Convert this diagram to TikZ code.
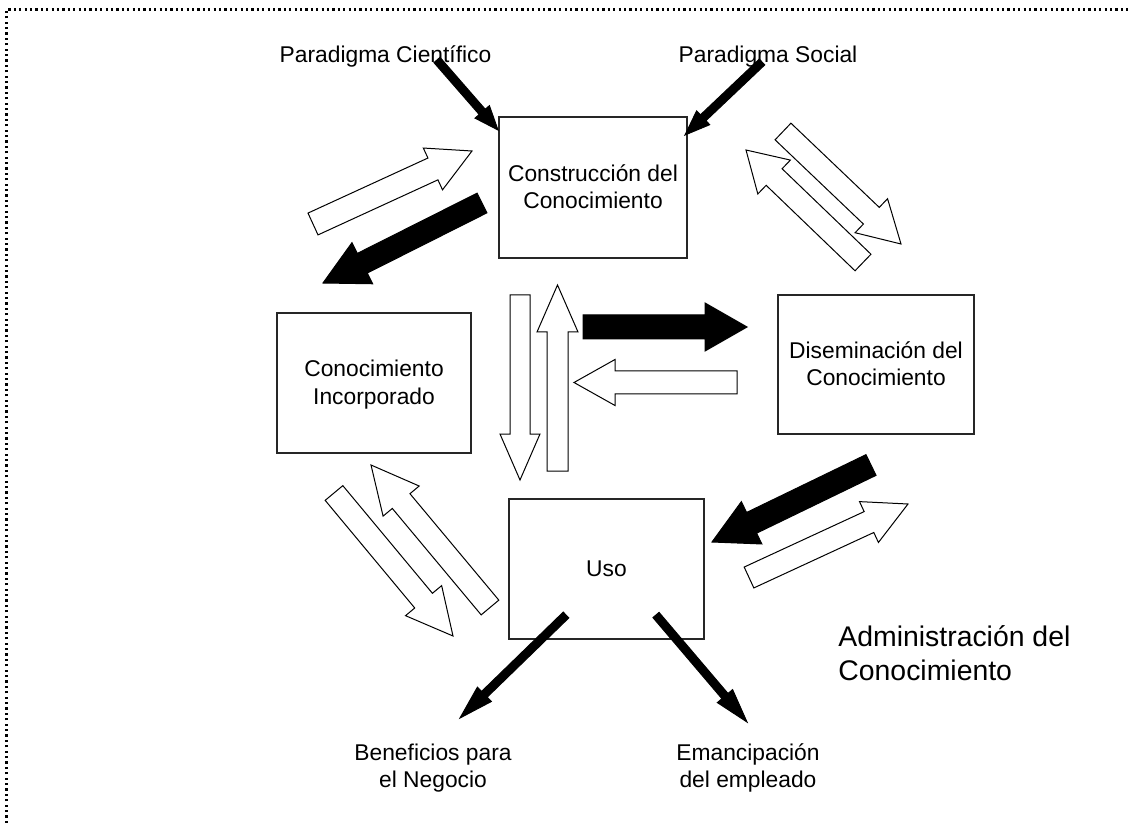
\documentclass[tikz,border=0pt]{standalone}
\usepackage{fontspec}
\setmainfont{Liberation Sans}
\usetikzlibrary{calc}
\newcommand{\blockarrow}[6]{%
  \coordinate (ba-n) at ($(#3)!#6!(#2)$);
  \draw[#1] ($(#2)!#4!90:(#3)$) -- ($(ba-n)!#4!90:(#3)$) -- ($(ba-n)!#5!90:(#3)$) -- (#3)
    -- ($(ba-n)!#5!-90:(#3)$) -- ($(ba-n)!#4!-90:(#3)$) -- ($(#2)!#4!-90:(#3)$) -- cycle;}
\tikzset{
  box/.style={draw=black!85, line width=0.75pt, fill=white, inner sep=0pt},
  lbl/.style={font=\fontsize{11.4}{13.5}\selectfont, align=center, inner sep=0pt},
  biglbl/.style={font=\fontsize{14.2}{17}\selectfont, align=left, inner sep=0pt},
  warrow/.style={draw=black, fill=white, line width=0.5pt, line join=miter},
  barrow/.style={draw=black, fill=black, line width=0.5pt, line join=miter},
  frame/.style={line width=1.1pt, dash pattern=on 1.1pt off 1.6pt}
}
\begin{document}
\begin{tikzpicture}[x=0.5pt,y=-0.5pt]
\useasboundingbox (0,0) rectangle (1129,823);
\fill[white] (0,0) rectangle (1129,823);
\draw[frame] (6.5,823) -- (6.5,9.5) -- (1129,9.5);

% boxes
\node[box, minimum width=94pt, minimum height=70.5pt] (cons) at (593,187.5) {};
\node[box, minimum width=97pt, minimum height=70pt] (inc) at (374,383) {};
\node[box, minimum width=98pt, minimum height=69.5pt] (dis) at (876,364.5) {};
\node[box, minimum width=97.5pt, minimum height=70pt] (uso) at (606.5,569) {};

% box texts (base anchor = baseline of the last line)
\node[lbl, anchor=base] (cons-t) at (593,209) {Construcción del\\Conocimiento};
\node[lbl, anchor=base] (inc-t) at (374,404) {Conocimiento\\Incorporado};
\node[lbl, anchor=base] (dis-t) at (876,386) {Diseminación del\\Conocimiento};
\node[lbl, anchor=base] (uso-t) at (606.5,576) {Uso};

% outer labels
\node[lbl, anchor=base] (pc) at (385.5,63) {Paradigma Científico};
\node[lbl, anchor=base] (ps) at (768,63) {Paradigma Social};
\node[lbl, anchor=base] (ben) at (433,787) {Beneficios para\\el Negocio};
\node[lbl, anchor=base] (eman) at (748,787) {Emancipación\\del empleado};
\node[biglbl, anchor=base west] (adm) at (838,680) {Administración del\\Conocimiento};

% arrow end points
\coordinate (pct) at (437,60);   \coordinate (pch) at (498,130);
\coordinate (pst) at (762,62);   \coordinate (psh) at (685,135);
\coordinate (w1t) at (313,224);  \coordinate (w1h) at (472,151);
\coordinate (b1t) at (482,203);  \coordinate (b1h) at (323,283);
\coordinate (wat) at (783,131.5); \coordinate (wah) at (901,244);
\coordinate (wbt) at (863,262.5); \coordinate (wbh) at (746,150);
\coordinate (bht) at (583,327);  \coordinate (bhh) at (747,327);
\coordinate (wht) at (737,382.5); \coordinate (whh) at (574,382.5);
\coordinate (vdt) at (520,295);  \coordinate (vdh) at (520,480);
\coordinate (vut) at (557.5,471); \coordinate (vuh) at (557.5,285);
\coordinate (wct) at (334,493);  \coordinate (wch) at (453,636);
\coordinate (wdt) at (490,607.5); \coordinate (wdh) at (371,465);
\coordinate (b2t) at (871,465);  \coordinate (b2h) at (712,542);
\coordinate (w2t) at (749,577.5); \coordinate (w2h) at (908,504);
\coordinate (blt) at (566,615);  \coordinate (blh) at (460,718);
\coordinate (brt) at (656,615);  \coordinate (brh) at (747,722);

% thin black arrows
\blockarrow{barrow}{pct}{pch}{2pt}{4.75pt}{12pt}
\blockarrow{barrow}{pst}{psh}{2pt}{4.75pt}{12.5pt}
\blockarrow{barrow}{blt}{blh}{2pt}{5pt}{17pt}
\blockarrow{barrow}{brt}{brh}{2pt}{5pt}{17pt}

% thick arrows
\blockarrow{warrow}{w1t}{w1h}{6pt}{11.5pt}{21.5pt}
\blockarrow{barrow}{b1t}{b1h}{5.5pt}{11.5pt}{22pt}
\blockarrow{warrow}{wat}{wah}{5.75pt}{11.75pt}{20.5pt}
\blockarrow{warrow}{wbt}{wbh}{5.75pt}{11.75pt}{19.5pt}
\blockarrow{barrow}{bht}{bhh}{6pt}{12pt}{21pt}
\blockarrow{warrow}{wht}{whh}{5.75pt}{11.5pt}{20.5pt}
\blockarrow{warrow}{vdt}{vdh}{5pt}{10pt}{23pt}
\blockarrow{warrow}{vut}{vuh}{5.25pt}{10.25pt}{23.5pt}
\blockarrow{warrow}{wct}{wch}{5.75pt}{11.75pt}{23pt}
\blockarrow{warrow}{wdt}{wdh}{5.75pt}{11.75pt}{23.5pt}
\blockarrow{barrow}{b2t}{b2h}{5.75pt}{11.75pt}{22pt}
\blockarrow{warrow}{w2t}{w2h}{5.75pt}{11.25pt}{21.5pt}
\end{tikzpicture}
\end{document}
